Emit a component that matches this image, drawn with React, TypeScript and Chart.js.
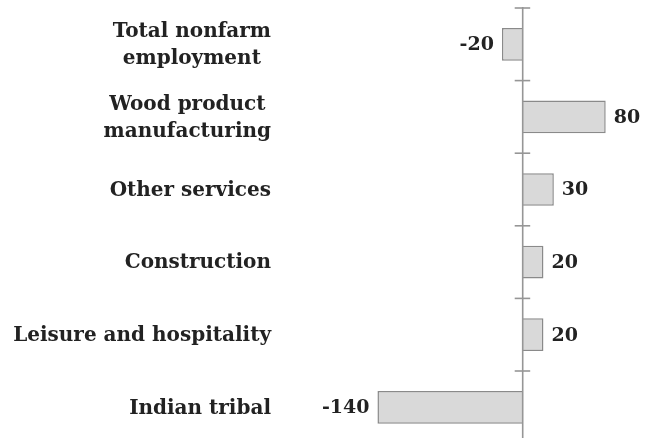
import React, { useEffect, useRef } from "react";
import { Chart, registerables } from "chart.js";

Chart.register(...registerables);

const categories: string[][] = [
  ["Total nonfarm", "employment"],
  ["Wood product", "manufacturing"],
  ["Other services"],
  ["Construction"],
  ["Leisure and hospitality"],
  ["Indian tribal"],
];
const values: number[] = [-20, 80, 30, 20, 20, -140];

const FONT = '"DejaVu Serif", serif';
const TEXT = "#222222";
const AXIS = "#969696";

export default function App() {
  const ref = useRef<HTMLCanvasElement | null>(null);

  useEffect(() => {
    if (!ref.current) return;
    const overlay = {
      id: "overlay",
      afterDatasetsDraw(chart: any) {
        const ctx = chart.ctx as CanvasRenderingContext2D;
        const x = chart.scales.x;
        const y = chart.scales.y;
        const area = chart.chartArea;
        const x0 = x.getPixelForValue(0);
        const step = y.getPixelForValue(1) - y.getPixelForValue(0);
        ctx.save();
        // axis line
        ctx.strokeStyle = AXIS;
        ctx.lineWidth = 1.6;
        ctx.beginPath();
        ctx.moveTo(x0, area.top - 1);
        ctx.lineTo(x0, area.bottom);
        ctx.stroke();
        // cross ticks at category boundaries
        const n = categories.length;
        for (let i = 0; i <= n; i++) {
          const yy = y.getPixelForValue(0) - step / 2 + i * step;
          ctx.beginPath();
          ctx.moveTo(x0 - 8, yy);
          ctx.lineTo(x0 + 7.5, yy);
          ctx.stroke();
        }
        // value labels
        ctx.fillStyle = TEXT;
        ctx.font = `bold 19px ${FONT}`;
        ctx.textBaseline = "middle";
        values.forEach((v, i) => {
          const yc = y.getPixelForValue(i);
          const xe = x.getPixelForValue(v);
          if (v >= 0) {
            ctx.textAlign = "left";
            ctx.fillText(String(v), xe + 8, yc + 1);
          } else {
            ctx.textAlign = "right";
            ctx.fillText(String(v), xe - 8, yc + 1);
          }
        });
        // category labels
        ctx.font = `bold 20px ${FONT}`;
        ctx.textAlign = "center";
        const rightEdge = 271;
        const lh = 27;
        categories.forEach((lines, i) => {
          const yc = y.getPixelForValue(i);
          const w = Math.max(...lines.map((l) => ctx.measureText(l).width));
          const cx = rightEdge - w / 2;
          lines.forEach((l, j) => {
            const yy = yc + (j - (lines.length - 1) / 2) * lh;
            ctx.fillText(l, cx, yy + 1);
          });
        });
        ctx.restore();
      },
    };

    const chart = new Chart(ref.current, {
      type: "bar",
      data: {
        labels: categories.map((c) => c.join(" ")),
        datasets: [
          {
            data: values,
            backgroundColor: "#d9d9d9",
            borderColor: "#8a8a8a",
            borderWidth: 1.5,
            barPercentage: 0.45,
            categoryPercentage: 1,
          },
        ],
      },
      options: {
        indexAxis: "y",
        responsive: false,
        animation: false,
        devicePixelRatio: 1,
        layout: { padding: { left: 273.7, right: 12.8, top: 8, bottom: 6.4 } },
        plugins: { legend: { display: false }, tooltip: { enabled: false } },
        scales: {
          x: { display: false, min: -240, max: 120 },
          y: { display: false, offset: true },
        },
      },
      plugins: [overlay],
    });
    return () => chart.destroy();
  }, []);

  return (
    <div style={{ position: "fixed", left: 0, top: 0, width: 660, height: 438, overflow: "hidden", background: "#fff" }}>
      <canvas ref={ref} width={660} height={450} style={{ display: "block", width: 660, height: 450 }} />
    </div>
  );
}
